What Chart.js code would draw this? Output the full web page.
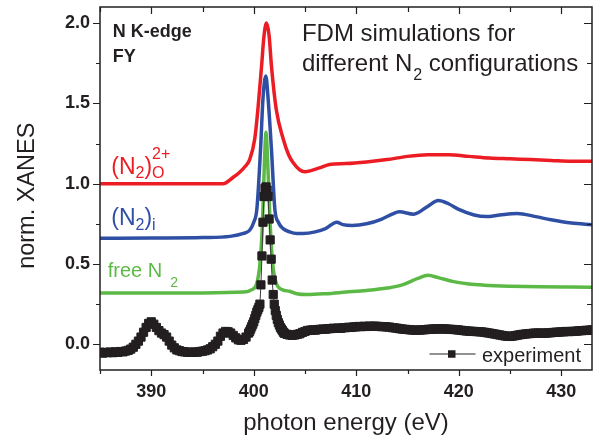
<!DOCTYPE html>
<html>
<head>
<meta charset="utf-8">
<script src="https://cdn.jsdelivr.net/npm/chart.js@4.4.1/dist/chart.umd.min.js"></script>
<style>
  html, body { margin: 0; padding: 0; background: #fff; }
  #wrap { width: 594px; height: 442px; }
</style>
</head>
<body>
<div id="wrap"><canvas id="xanesChart"></canvas></div>
<script>
// experiment (FY), photon energy in eV
const expEnergy = [
    385, 385.25, 385.5, 385.75, 386, 386.25, 386.5, 386.75, 387, 387.25, 387.5, 387.75,
    388, 388.25, 388.5, 388.75, 389, 389.25, 389.5, 389.75, 390, 390.25, 390.5, 390.75,
    391, 391.25, 391.5, 391.75, 392, 392.25, 392.5, 392.75, 393, 393.25, 393.5, 393.75,
    394, 394.25, 394.5, 394.75, 395, 395.25, 395.5, 395.75, 396, 396.25, 396.5, 396.75,
    397, 397.25, 397.5, 397.75, 398, 398.25, 398.5, 398.75, 399, 399.25, 399.5,
    399.6, 399.7, 399.8, 399.9, 400.0, 400.1, 400.2, 400.3, 400.4, 400.5,
    400.6, 400.7, 400.8, 400.9, 401.0, 401.1, 401.2, 401.3, 401.4, 401.5,
    401.6, 401.7, 401.8, 401.9, 402.0, 402.1, 402.2, 402.3, 402.4, 402.5,
    402.6, 402.7, 402.8, 402.9, 403.0,
    403.25, 403.5, 403.75, 404, 404.25, 404.5, 404.75, 405, 405.25, 405.5, 405.75, 406,
    406.25, 406.5, 406.75, 407, 407.25, 407.5, 407.75, 408, 408.25, 408.5, 408.75, 409,
    409.25, 409.5, 409.75, 410, 410.25, 410.5, 410.75, 411, 411.25, 411.5, 411.75, 412,
    412.25, 412.5, 412.75, 413, 413.25, 413.5, 413.75, 414, 414.25, 414.5, 414.75, 415,
    415.25, 415.5, 415.75, 416, 416.25, 416.5, 416.75, 417, 417.25, 417.5, 417.75, 418,
    418.25, 418.5, 418.75, 419, 419.25, 419.5, 419.75, 420, 420.25, 420.5, 420.75, 421,
    421.25, 421.5, 421.75, 422, 422.25, 422.5, 422.75, 423, 423.25, 423.5, 423.75, 424,
    424.25, 424.5, 424.75, 425, 425.25, 425.5, 425.75, 426, 426.25, 426.5, 426.75, 427,
    427.25, 427.5, 427.75, 428, 428.25, 428.5, 428.75, 429, 429.25, 429.5, 429.75, 430,
    430.25, 430.5, 430.75, 431, 431.25, 431.5, 431.75, 432, 432.25, 432.5, 432.75, 433
];
const expSignal = [
    -0.05, -0.055, -0.05, -0.052, -0.048, -0.052, -0.047, -0.05, -0.045, -0.047, -0.042, -0.038,
    -0.03, -0.018, 0.0, 0.02, 0.045, 0.075, 0.105, 0.13, 0.14, 0.125, 0.105, 0.085,
    0.07, 0.06, 0.045, 0.02, -0.005, -0.022, -0.035, -0.04, -0.045, -0.047, -0.049, -0.05,
    -0.05, -0.048, -0.049, -0.045, -0.043, -0.04, -0.035, -0.028, -0.015, 0.0, 0.02, 0.05,
    0.07, 0.08, 0.078, 0.07, 0.055, 0.04, 0.028, 0.025, 0.03, 0.045, 0.07,
    0.08, 0.095, 0.11, 0.125, 0.14, 0.16, 0.18, 0.2, 0.215, 0.23,
    0.25, 0.37, 0.55, 0.76, 0.92, 0.97, 0.98, 0.96, 0.92, 0.78,
    0.65, 0.53, 0.4, 0.31, 0.25, 0.21, 0.18, 0.155, 0.135, 0.12,
    0.105, 0.095, 0.085, 0.075, 0.068,
    0.062, 0.058, 0.056, 0.058, 0.062, 0.066, 0.074, 0.08, 0.086, 0.088, 0.09, 0.088,
    0.092, 0.093, 0.095, 0.094, 0.097, 0.098, 0.1, 0.099, 0.101, 0.1, 0.103, 0.104,
    0.106, 0.105, 0.108, 0.109, 0.111, 0.11, 0.112, 0.111, 0.113, 0.112, 0.113, 0.112,
    0.111, 0.11, 0.11, 0.108, 0.107, 0.104, 0.102, 0.1, 0.097, 0.095, 0.093, 0.092,
    0.09, 0.089, 0.088, 0.088, 0.089, 0.09, 0.091, 0.093, 0.094, 0.095, 0.096, 0.095,
    0.096, 0.096, 0.095, 0.094, 0.093, 0.092, 0.091, 0.089, 0.087, 0.085, 0.083, 0.082,
    0.081, 0.08, 0.079, 0.078, 0.077, 0.075, 0.072, 0.07, 0.067, 0.064, 0.061, 0.058,
    0.055, 0.052, 0.05, 0.049, 0.051, 0.054, 0.057, 0.06, 0.062, 0.064, 0.066, 0.067,
    0.069, 0.07, 0.07, 0.07, 0.069, 0.07, 0.071, 0.072, 0.074, 0.075, 0.076, 0.077,
    0.078, 0.08, 0.079, 0.08, 0.081, 0.082, 0.084, 0.085, 0.086, 0.087, 0.088, 0.09
];

// FDM (N2)O 2+
const oxEnergy = [385, 397, 398, 398.6, 399.2, 399.6, 400.1, 400.4, 400.76, 401.0,
    401.25, 401.5, 401.73, 402.2, 402.87, 403.4, 403.85, 404.5, 405.0, 405.5,
    406.5, 407.4, 409, 411, 413, 415, 417, 419, 421, 423,
    425, 427, 429, 431, 433];
const oxSignal = [1.0, 1.0, 1.04, 1.07, 1.11, 1.15, 1.28, 1.46, 1.73, 1.92,
    2.0, 1.92, 1.73, 1.46, 1.28, 1.18, 1.13, 1.085, 1.075, 1.08,
    1.10, 1.12, 1.125, 1.135, 1.15, 1.17, 1.18, 1.18, 1.17, 1.16,
    1.155, 1.15, 1.145, 1.14, 1.14];

// FDM (N2)i
const intEnergy = [385, 390, 395, 397.7, 399.0, 399.6, 400.0, 400.3, 400.66, 400.9,
    401.18, 401.4, 401.73, 402.06, 402.4, 402.87, 403.5, 404.2, 404.8, 406,
    407, 408.1, 408.7, 409.6, 411, 412.5, 413.5, 414.2, 415.6, 417,
    418, 419, 420, 421.5, 422.7, 424, 425.7, 427.5, 429, 431,
    433];
const intSignal = [0.66, 0.662, 0.665, 0.672, 0.69, 0.71, 0.76, 0.84, 1.21, 1.53,
    1.67, 1.53, 1.21, 0.84, 0.76, 0.72, 0.70, 0.69, 0.69, 0.70,
    0.72, 0.76, 0.745, 0.74, 0.75, 0.78, 0.81, 0.825, 0.81, 0.86,
    0.895, 0.875, 0.84, 0.805, 0.795, 0.805, 0.815, 0.795, 0.775, 0.755,
    0.745];

// FDM free N2
const freeEnergy = [385, 395, 399.0, 399.8, 400.3, 400.6, 400.85, 401.05, 401.2, 401.35,
    401.6, 401.85, 402.2, 402.8, 403.5, 404.2, 405.2, 407, 409, 411,
    413, 414.5, 416, 417, 418, 419.5, 421, 422.5, 425, 428,
    431, 433];
const freeSignal = [0.32, 0.32, 0.325, 0.34, 0.38, 0.50, 0.75, 1.15, 1.32, 1.15,
    0.75, 0.50, 0.38, 0.34, 0.33, 0.315, 0.31, 0.315, 0.325, 0.335,
    0.35, 0.37, 0.41, 0.43, 0.415, 0.39, 0.375, 0.368, 0.362, 0.358,
    0.356, 0.355];

const xTickValues = [390, 400, 410, 420, 430];
const xMinorValues = [385, 395, 405, 415, 425];
const yTickValues = [0.0, 0.5, 1.0, 1.5, 2.0];
const yMinorValues = [0.25, 0.75, 1.25, 1.75];

const FONT = "'Liberation Sans', Arial, Helvetica, sans-serif";
const INK = '#231f20';
const RED = '#ec1c24';
const BLUE = '#2e4fa3';
const GREEN = '#5cb946';

Chart.defaults.font.family = FONT;
Chart.defaults.color = INK;

function toPoints(xs, ys) {
    return xs.map((x, i) => ({ x: x, y: ys[i] }));
}

// text with sub/superscripts
function drawRich(ctx, x, y, parts, color, size, subDrop) {
    ctx.save();
    ctx.fillStyle = color;
    ctx.textAlign = 'left';
    ctx.textBaseline = 'alphabetic';
    const big = size + 'px ' + FONT;
    const small = Math.round(size * 0.68) + 'px ' + FONT;
    parts.forEach(p => {
        if (p.sub !== undefined) {
            ctx.font = small;
            ctx.fillText(p.sub, x + (p.gap || 0), y + subDrop);
            let w = ctx.measureText(p.sub).width;
            if (p.sup) {
                ctx.fillText(p.sup, x + (p.gap || 0), y - size * 0.64);
                w = Math.max(w, ctx.measureText(p.sup).width);
            }
            x += w + (p.gap || 0);
        } else {
            ctx.font = big;
            ctx.fillText(p.t, x, y);
            x += ctx.measureText(p.t).width;
        }
    });
    ctx.restore();
}

const decorPlugin = {
    id: 'decor',
    afterDatasetsDraw(chart) {
        const ctx = chart.ctx;
        const area = chart.chartArea;
        const xs = chart.scales.x;
        const ys = chart.scales.y;
        const px = v => xs.getPixelForValue(v);
        const py = v => ys.getPixelForValue(v);

        ctx.save();
        ctx.strokeStyle = INK;
        ctx.lineWidth = 1.5;
        ctx.strokeRect(area.left, area.top, area.right - area.left, area.bottom - area.top);

        // tick marks: outward on bottom/left, inward on top/right
        ctx.lineWidth = 1.2;
        ctx.beginPath();
        const xt = xTickValues.map(v => [v, 6]).concat(xMinorValues.map(v => [v, 4]));
        xt.forEach(([v, len]) => {
            const x = Math.round(px(v)) + 0.5;
            ctx.moveTo(x, area.bottom); ctx.lineTo(x, area.bottom + len);
            ctx.moveTo(x, area.top); ctx.lineTo(x, area.top + len + 1);
        });
        const yt = yTickValues.map(v => [v, 7]).concat(yMinorValues.map(v => [v, 4]));
        yt.forEach(([v, len]) => {
            const y = Math.round(py(v)) + 0.5;
            ctx.moveTo(area.left, y); ctx.lineTo(area.left - len, y);
            ctx.moveTo(area.right, y); ctx.lineTo(area.right - len - 1, y);
        });
        ctx.stroke();

        // y axis title
        ctx.save();
        ctx.translate(33.5, py(0.925));
        ctx.rotate(-Math.PI / 2);
        ctx.font = '23.5px ' + FONT;
        ctx.fillStyle = INK;
        ctx.textAlign = 'center';
        ctx.textBaseline = 'alphabetic';
        ctx.fillText('norm. XANES', 0, 0);
        ctx.restore();

        // corner notes
        ctx.fillStyle = INK;
        ctx.font = 'bold 18px ' + FONT;
        ctx.textBaseline = 'alphabetic';
        ctx.fillText('N K-edge', px(386.25), py(1.916));
        ctx.fillText('FY', px(386.25), py(1.756));

        drawRich(ctx, px(404.7), py(1.891), [{ t: 'FDM simulations for' }], INK, 24, 0);
        drawRich(ctx, px(404.7), py(1.704),
            [{ t: 'different N' }, { sub: '2', gap: 1 }, { t: ' configurations' }], INK, 24, 9);

        // curve labels
        drawRich(ctx, px(386.1), py(1.06),
            [{ t: '(N' }, { sub: '2' }, { t: ')' }, { sub: 'O', sup: '2+' }], RED, 23, 4);
        drawRich(ctx, px(386.1), py(0.74),
            [{ t: '(N' }, { sub: '2' }, { t: ')' }, { sub: 'i' }], BLUE, 23, 5);
        drawRich(ctx, px(385.75), py(0.42),
            [{ t: 'free N' }, { sub: '2', gap: 8 }], GREEN, 20, 10);

        // legend, bottom right of the plot
        const ly = area.bottom - 16;
        const lx = area.right - 162.5;
        ctx.strokeStyle = '#6d6d6d';
        ctx.lineWidth = 1.5;
        ctx.beginPath();
        ctx.moveTo(lx, ly); ctx.lineTo(lx + 46, ly);
        ctx.stroke();
        ctx.fillStyle = INK;
        ctx.fillRect(lx + 18.5, ly - 3.75, 7.5, 7.5);
        ctx.font = '20px ' + FONT;
        ctx.fillText('experiment', lx + 52.5, ly + 7.5);
        ctx.restore();
    }
};

const ctx = document.getElementById('xanesChart').getContext('2d');

new Chart(ctx, {
    type: 'scatter',
    data: {
        datasets: [{
            label: 'experiment',
            data: toPoints(expEnergy, expSignal),
            showLine: true,
            borderColor: '#3a3a3a',
            borderWidth: 1,
            pointStyle: 'rect',
            pointRadius: 5.8,
            pointBackgroundColor: INK,
            pointBorderColor: INK,
            pointBorderWidth: 1
        }, {
            label: 'free N2',
            data: toPoints(freeEnergy, freeSignal),
            showLine: true,
            borderColor: GREEN,
            borderWidth: 3.5,
            pointRadius: 0,
            cubicInterpolationMode: 'monotone'
        }, {
            label: '(N2)i',
            data: toPoints(intEnergy, intSignal),
            showLine: true,
            borderColor: BLUE,
            borderWidth: 3.5,
            pointRadius: 0,
            cubicInterpolationMode: 'monotone'
        }, {
            label: '(N2)O 2+',
            data: toPoints(oxEnergy, oxSignal),
            showLine: true,
            borderColor: RED,
            borderWidth: 3.5,
            pointRadius: 0,
            cubicInterpolationMode: 'monotone'
        }]
    },
    options: {
        responsive: true,
        maintainAspectRatio: false,
        animation: false,
        layout: { autoPadding: false, padding: { top: 7, right: 2, left: 0, bottom: 0 } },
        plugins: {
            legend: { display: false },
            tooltip: { enabled: false }
        },
        scales: {
            x: {
                type: 'linear',
                min: 385,
                max: 433,
                afterBuildTicks: s => { s.ticks = xTickValues.map(v => ({ value: v })); },
                afterFit: s => { s.height = 72; s.paddingLeft = 0; s.paddingRight = 0; },
                grid: { display: false, drawTicks: false },
                border: { display: false },
                ticks: {
                    padding: 11,
                    font: { size: 18, weight: 'bold' },
                    color: INK,
                    callback: v => String(v)
                },
                title: {
                    display: true,
                    text: 'photon energy (eV)',
                    font: { size: 24 },
                    color: INK,
                    padding: { top: 0, bottom: 4 }
                }
            },
            y: {
                type: 'linear',
                min: -0.16,
                max: 2.1,
                afterBuildTicks: s => { s.ticks = yTickValues.map(v => ({ value: v })); },
                afterFit: s => { s.width = 100; s.paddingTop = 0; s.paddingBottom = 0; },
                grid: { display: false, drawTicks: false },
                border: { display: false },
                ticks: {
                    padding: 10,
                    font: { size: 18, weight: 'bold' },
                    color: INK,
                    callback: v => v.toFixed(1)
                },
                title: { display: false }
            }
        }
    },
    plugins: [decorPlugin]
});
</script>
</body>
</html>
